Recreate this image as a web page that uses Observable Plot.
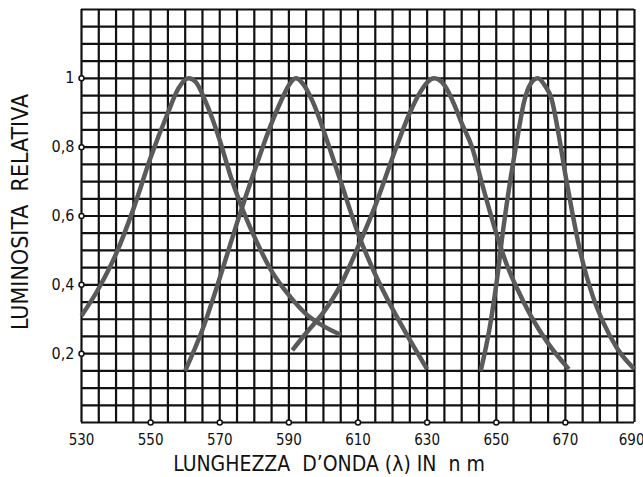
<!DOCTYPE html>
<html>
<head>
<meta charset="utf-8">
<script src="https://cdn.jsdelivr.net/npm/d3@7"></script>
<script src="https://cdn.jsdelivr.net/npm/@observablehq/plot@0.6"></script>
<style>
  html, body { margin: 0; padding: 0; background: #fff; }
  #chart svg { display: block; }
</style>
</head>
<body>
<div id="chart"></div>
<script>
// ---- data ----
const wl1  = [530, 535, 540, 545, 550, 555, 558, 561, 563, 566, 570, 573, 576, 580, 585, 590, 595, 600, 605];
const lum1 = [0.31, 0.39, 0.49, 0.62, 0.77, 0.90, 0.97, 1.0, 0.99, 0.93, 0.82, 0.72, 0.635, 0.54, 0.44, 0.37, 0.315, 0.28, 0.255];

const wl2  = [560, 565, 570, 575, 580, 585, 588, 590, 592, 594, 597, 601, 605, 610, 615, 620, 625, 630];
const lum2 = [0.15, 0.27, 0.42, 0.58, 0.73, 0.87, 0.94, 0.98, 1.0, 0.985, 0.93, 0.82, 0.70, 0.55, 0.43, 0.33, 0.24, 0.155];

const wl3  = [591, 595, 600, 605, 610, 615, 620, 625, 628, 632, 635, 638, 640, 643, 646, 650, 653, 656, 660, 665, 671];
const lum3 = [0.21, 0.26, 0.32, 0.40, 0.51, 0.63, 0.77, 0.90, 0.96, 1.0, 0.98, 0.92, 0.87, 0.80, 0.69, 0.55, 0.46, 0.39, 0.31, 0.23, 0.155];

const wl4  = [645.5, 648, 650, 652, 654, 656, 658, 660, 662, 664, 666, 668, 670, 672, 674, 676, 678, 681, 685, 690];
const lum4 = [0.15, 0.27, 0.40, 0.56, 0.70, 0.82, 0.93, 0.985, 1.0, 0.98, 0.94, 0.84, 0.72, 0.61, 0.51, 0.43, 0.365, 0.29, 0.215, 0.155];

const xTicks = [530, 550, 570, 590, 610, 630, 650, 670, 690];
const xTickLabels = ["530", "550", "570", "590", "610", "630", "650", "670", "690"];
const yTicks = [0.2, 0.4, 0.6, 0.8, 1];
const yTickLabels = ["0,2", "0,4", "0,6", "0,8", "1"];
const xTitle = "LUNGHEZZA  D’ONDA (λ) IN  n m";
const yTitle = "LUMINOSITA  RELATIVA";

// grid spacing (graph paper): every 5 nm and every 0.05
const gridX = d3.range(0, 33).map(i => 530 + i * 5);
const gridY = d3.range(0, 25).map(i => +(i * 0.05).toFixed(2));

const series = [[wl1, lum1], [wl2, lum2], [wl3, lum3], [wl4, lum4]];

const font = "'DejaVu Sans Condensed', 'DejaVu Sans', sans-serif";

const chart = Plot.plot({
  width: 643,
  height: 477,
  marginLeft: 81,
  marginRight: 9,
  marginTop: 9,
  marginBottom: 55,
  style: { background: "#fff", fontFamily: font, color: "#111" },
  x: { domain: [530, 690], axis: null },
  y: { domain: [0, 1.2], axis: null },
  marks: [
    Plot.ruleX(gridX, { stroke: "#111", strokeWidth: 2.2 }),
    Plot.ruleY(gridY, { stroke: "#111", strokeWidth: 2.2 }),
    ...series.map(([xs, ys]) =>
      Plot.line(xs.map((x, i) => ({ x, y: ys[i] })), {
        x: "x", y: "y", curve: "monotone-x",
        stroke: "#5a5a5a", strokeWidth: 4.5, strokeLinecap: "butt"
      })
    ),
    // tick dots
    Plot.dot(yTicks, { x: () => 530, y: d => d, r: 2.5, fill: "#fff", stroke: "#111", strokeWidth: 1.5 }),
    Plot.dot(xTicks.slice(1, -1), { x: d => d, y: () => 0, r: 2.5, fill: "#fff", stroke: "#111", strokeWidth: 1.5 }),
    // tick labels
    Plot.text(xTicks, {
      x: d => d, y: () => 0, text: (d, i) => xTickLabels[i],
      dy: 18, fontSize: 15, fill: "#111", textAnchor: "middle"
    }),
    Plot.text(yTicks, { x: () => 530, y: d => d, text: (d, i) => yTickLabels[i], dx: -7, textAnchor: "end", fontSize: 16, fill: "#111" }),
    // axis titles
    Plot.text([xTitle], { frameAnchor: "bottom", textAnchor: "middle", dy: 48, dx: -29, fontSize: 21, fill: "#111", letterSpacing: "1.2px" }),
    Plot.text([yTitle], { frameAnchor: "left", textAnchor: "middle", dx: -61, dy: -4, rotate: -90, fontSize: 23, fill: "#111", letterSpacing: "2.4px" })
  ]
});

// nudge the last x tick label so it stays inside the picture, as in the reference
chart.querySelectorAll("text").forEach(t => {
  if (t.textContent === "690") { t.setAttribute("text-anchor", "end"); t.setAttribute("dx", "10"); }
});

document.getElementById("chart").appendChild(chart);
</script>
</body>
</html>
